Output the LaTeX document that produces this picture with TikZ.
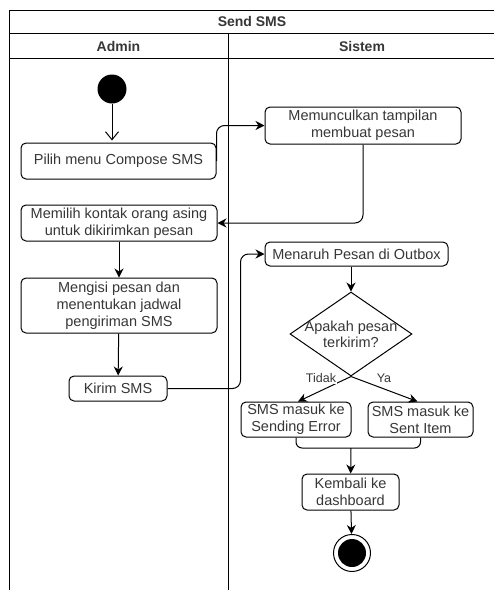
\documentclass[tikz,border=0pt]{standalone}
\usepackage{fontspec}
\setmainfont{Liberation Sans}
\usetikzlibrary{arrows.meta,shapes.geometric,calc}
\definecolor{txt}{RGB}{55,55,55}
\begin{document}
\begin{tikzpicture}[x=1pt,y=-1pt,
  act/.style={draw, rounded corners=5pt, line width=1pt, text=txt, align=center,
    font=\fontsize{14.5}{17}\selectfont, inner sep=0pt},
  flow/.style={-{Stealth[length=9pt,width=9pt]}, line width=1pt, rounded corners=8pt},
  lane/.style={line width=1pt},
  hdr/.style={font=\bfseries\fontsize{14}{16}\selectfont, text=txt},
  lbl/.style={font=\fontsize{12.5}{14}\selectfont, text=txt, fill=white, inner sep=1pt}
]
\useasboundingbox (0,0) rectangle (494,590);
\fill[white] (0,0) rectangle (494,590);

% swimlane frame
\draw[lane] (494,10) -- (9,10) -- (9,590);
\draw[lane] (9,33) -- (494,33);
\draw[lane] (9,58) -- (494,58);
\draw[lane] (228,33) -- (228,590);
\node[hdr] (title) at (252,21.5) {Send SMS};
\node[hdr] (admin) at (118.5,46) {Admin};
\node[hdr] (sistem) at (362,46) {Sistem};

% nodes
\node[circle, fill=black, minimum size=29pt, inner sep=0pt] (start) at (112,89) {};
\node[act, minimum width=195pt, minimum height=36pt] (pilih) at (118.5,161) {Pilih menu Compose SMS};
\node[act, minimum width=196pt, minimum height=37pt] (mem) at (363,125.5) {Memunculkan tampilan\\membuat pesan};
\node[act, minimum width=196pt, minimum height=36pt] (memilih) at (119,223) {Memilih kontak orang asing\\untuk dikirimkan pesan};
\node[act, minimum width=196pt, minimum height=55pt] (mengisi) at (119,305.5) {Mengisi pesan dan\\menentukan jadwal\\pengiriman SMS};
\node[act, minimum width=98pt, minimum height=25pt] (kirim) at (118,388.5) {Kirim SMS};
\node[act, minimum width=183pt, minimum height=24pt] (menaruh) at (356.5,254) {Menaruh Pesan di Outbox};
\node[diamond, draw, line width=1pt, minimum width=122pt, minimum height=84pt, inner sep=0pt] (dec) at (351,334) {};
\node[text=txt, align=center, font=\fontsize{14.5}{16}\selectfont] (dectext) at (351,334) {Apakah pesan\\terkirim?};
\node[act, minimum width=110pt, minimum height=35pt] (err) at (296,419.5) {SMS masuk ke\\Sending Error};
\node[act, minimum width=105pt, minimum height=35pt] (sent) at (420.5,419.5) {SMS masuk ke\\Sent Item};
\coordinate (m) at (351,448);
\node[act, minimum width=97pt, minimum height=36pt] (kembali) at (350.5,492) {Kembali ke\\dashboard};
\node[circle, fill=black, minimum size=28pt, inner sep=0pt] (endin) at (352,553) {};
\node[circle, draw, line width=1pt, minimum size=37pt, inner sep=0pt] (end) at (352,553) {};

% connectors
\draw[-{Straight Barb[length=8pt,width=13pt]}, line width=1pt, shorten >=2pt] (start) -- (start |- pilih.north);
\draw[flow] (pilih.east) |- (mem.west);
\draw[flow] (mem.south) |- (memilih.east);
\draw[flow] (memilih) -- (mengisi);
\draw[flow] (mengisi) -- (kirim);
\draw[flow] (kirim.east) -- ++(73,0) |- (menaruh.west);
\draw[flow] (menaruh.south -| dec.north) -- (dec.north);
\draw[flow] (dec.south) -- ($(err.north)+(2,0)$);
\draw[flow] (dec.south) -- ($(sent.north)+(-3,0)$);
\node[lbl] (tidak) at (321,378) {Tidak};
\node[lbl] (ya) at (384,378) {Ya};
\draw[line width=1pt, rounded corners=6pt] (err.south) |- (m) -| (sent.south);
\draw[flow] (m) -- (kembali);
\draw[flow] (kembali) -- (end);
\end{tikzpicture}
\end{document}
